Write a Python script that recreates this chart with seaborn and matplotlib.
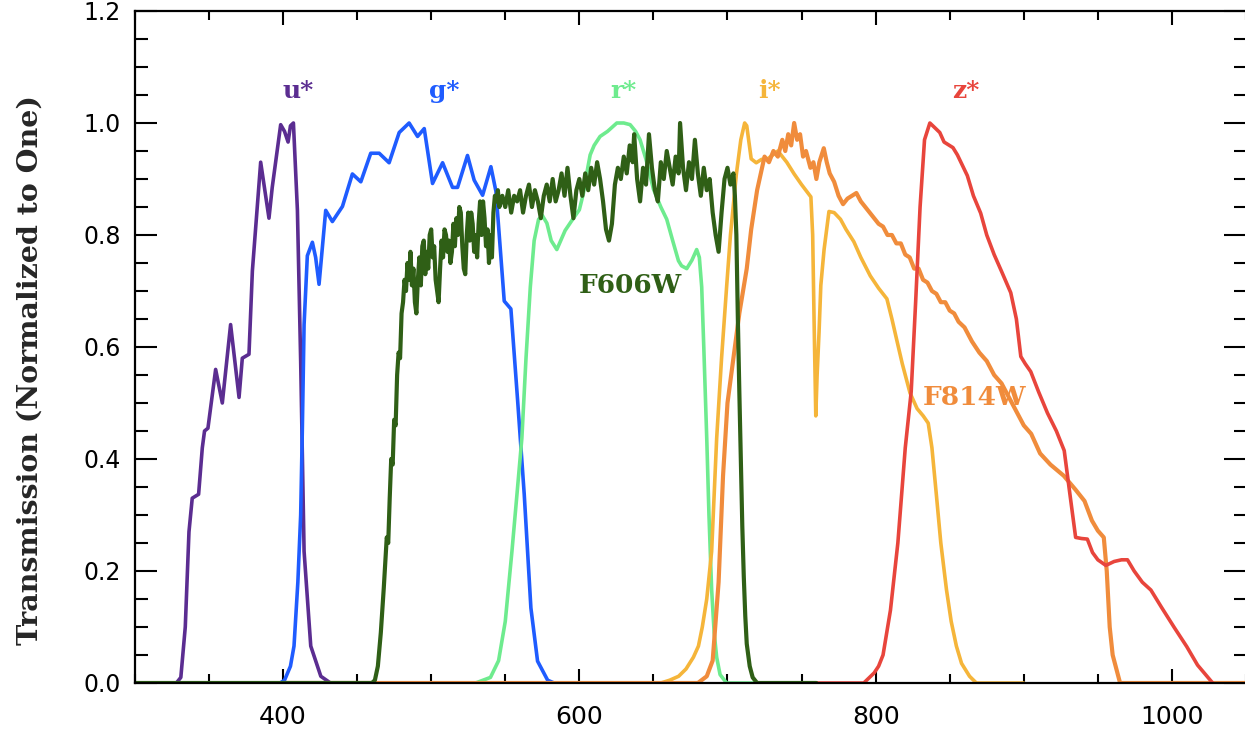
import numpy as np
import pandas as pd
import matplotlib
matplotlib.use("Agg")
import matplotlib.pyplot as plt
import seaborn as sns
from matplotlib.ticker import MultipleLocator

# ---------------- data ----------------
u_wl = [300, 328, 331, 334, 336.5, 338.7, 343, 345.5, 347, 349.3, 354.5, 359, 364.6, 370.3,
        372.5, 377, 379.3, 384.9, 390.5, 392.7, 398.4, 401, 403.4, 405, 407, 409.7, 411.9,
        414.2, 418.7, 425.5, 432, 500]
u_tr = [0, 0, 0.01, 0.10, 0.27, 0.33, 0.337, 0.42, 0.45, 0.455, 0.56, 0.50, 0.64, 0.51,
        0.58, 0.587, 0.736, 0.93, 0.83, 0.885, 0.997, 0.985, 0.966, 0.995, 1.0, 0.844, 0.574,
        0.235, 0.066, 0.012, 0.0, 0]

g_wl = [350, 398, 401, 405, 407.4, 410, 411.9, 413, 414.2, 416.4, 419.8, 422, 424.3, 428.8,
        433.3, 440.1, 446.8, 452.5, 459.2, 464.9, 471.6, 478.4, 485.1, 490.8, 495.3, 500.9,
        507.7, 514.4, 517.8, 524.5, 529, 534.7, 540.3, 543.7, 549.3, 553.8, 558.3, 562.8,
        567.3, 571.8, 578.6, 583, 600]
g_tr = [0, 0, 0.005, 0.03, 0.066, 0.18, 0.30, 0.45, 0.64, 0.763, 0.787, 0.76, 0.712, 0.844,
        0.824, 0.851, 0.909, 0.895, 0.946, 0.946, 0.929, 0.983, 1.0, 0.976, 0.99, 0.892,
        0.929, 0.885, 0.885, 0.942, 0.898, 0.871, 0.922, 0.878, 0.682, 0.668, 0.506, 0.337,
        0.134, 0.039, 0.005, 0, 0]

r_wl = [500, 530, 540, 545.5, 550, 554.5, 558, 561.2, 564, 566.9, 569.5, 572.5, 575, 578.1,
        581, 584.8, 590.4, 596, 600, 602.8, 605, 607.3, 610, 614, 619, 625.3, 630, 634.3,
        638, 641, 645, 650, 655, 659, 663, 666.9, 669, 672.5, 676, 679.2, 681, 682.6, 684,
        686, 687.5, 689.3, 691, 692.7, 695, 699.4, 760]
r_tr = [0, 0, 0.01, 0.04, 0.11, 0.235, 0.34, 0.437, 0.58, 0.707, 0.79, 0.828, 0.835, 0.821,
        0.79, 0.774, 0.808, 0.83, 0.845, 0.875, 0.91, 0.943, 0.96, 0.976, 0.985, 1.0, 1.0,
        0.997, 0.985, 0.97, 0.935, 0.882, 0.85, 0.828, 0.79, 0.754, 0.745, 0.74, 0.755,
        0.774, 0.76, 0.707, 0.6, 0.437, 0.3, 0.167, 0.09, 0.046, 0.015, 0, 0]

i_wl = [600, 655, 661, 667, 672, 677, 680.4, 683, 686, 689.3, 692.7, 696, 699.4, 702, 706,
        709, 711.6, 713, 716, 719.4, 723, 727.2, 734, 740, 745, 750, 756.3, 757.5, 758.5,
        759.6, 760.5, 761.8, 763, 765.2, 768.5, 772, 776.3, 780, 785.3, 790, 796.4, 802,
        807.6, 811, 814.3, 818, 823.2, 828, 832.1, 835.5, 838, 841, 844, 847.8, 851, 854.5,
        858, 863.4, 868, 900]
i_tr = [0, 0, 0.005, 0.012, 0.025, 0.046, 0.066, 0.10, 0.15, 0.235, 0.437, 0.58, 0.707, 0.8,
        0.909, 0.97, 1.0, 0.995, 0.936, 0.929, 0.935, 0.936, 0.95, 0.93, 0.909, 0.89, 0.868,
        0.8, 0.64, 0.477, 0.55, 0.626, 0.71, 0.774, 0.842, 0.84, 0.828, 0.81, 0.788, 0.76,
        0.727, 0.705, 0.686, 0.65, 0.612, 0.57, 0.518, 0.49, 0.477, 0.464, 0.42, 0.336, 0.25,
        0.167, 0.11, 0.066, 0.035, 0.012, 0, 0]

z_wl = [750, 792, 799, 802, 805, 810, 815, 820, 824, 827, 830, 833, 836.6, 839.4, 843.3,
        846.2, 852.2, 855.2, 861.9, 866, 870.9, 875, 880, 885, 891.2, 895, 898, 901, 904.7,
        910, 916, 922, 927.3, 931, 935, 939, 942.9, 946.4, 950, 955.4, 961, 966, 970, 974.5,
        980, 985.8, 993, 1001.6, 1010, 1017.3, 1027.5]
z_tr = [0, 0, 0.018, 0.03, 0.05, 0.13, 0.25, 0.42, 0.52, 0.68, 0.85, 0.97, 1.0, 0.993, 0.983,
        0.966, 0.956, 0.943, 0.906, 0.87, 0.839, 0.80, 0.765, 0.735, 0.697, 0.65, 0.583, 0.57,
        0.556, 0.52, 0.482, 0.45, 0.415, 0.34, 0.26, 0.258, 0.257, 0.233, 0.22, 0.21, 0.217,
        0.22, 0.22, 0.2, 0.18, 0.166, 0.135, 0.099, 0.065, 0.032, 0]

f606_wl = [300, 460, 462, 464, 466, 468, 470, 471, 472, 473, 474, 475, 476, 477, 478, 479, 480,
           481, 482, 483, 484, 485, 486, 487, 488, 489, 490, 491, 492, 493, 494, 495, 496, 497,
           498, 499, 500, 501, 502, 503, 504, 505, 506, 507, 508, 509, 510, 511, 512, 513, 514,
           515, 516, 517, 518, 519, 520, 521, 522, 523, 524, 525, 526, 527, 528, 529, 530, 531,
           532, 533, 534, 535, 536, 537, 538, 539, 540, 541, 542, 543, 544, 545, 546, 548, 550,
           552, 554, 556, 558, 560, 562, 564, 566, 568, 570, 572, 574, 576, 578, 580, 582, 584,
           586, 588, 590, 592, 594, 596, 598, 600, 602, 604, 606, 608, 610, 612, 614, 616, 618,
           620, 622, 624, 626, 628, 630, 632, 634, 636, 637, 639, 641, 643, 645, 647, 649, 651,
           653, 655, 657, 659, 661, 663, 665, 667, 668, 670, 672, 674, 676, 678, 680, 682, 684,
           686, 688, 690, 692, 694, 696, 698, 700, 702, 704, 705, 706, 707, 708, 709, 710, 711,
           712, 713, 715, 717, 720, 760]
f606_tr = [0, 0, 0.005, 0.03, 0.09, 0.17, 0.26, 0.25, 0.33, 0.40, 0.39, 0.47, 0.46, 0.55, 0.59,
           0.58, 0.66, 0.68, 0.72, 0.70, 0.75, 0.72, 0.77, 0.71, 0.74, 0.68, 0.66, 0.72, 0.76,
           0.71, 0.78, 0.79, 0.73, 0.77, 0.74, 0.80, 0.81, 0.76, 0.78, 0.72, 0.70, 0.68, 0.74,
           0.79, 0.76, 0.81, 0.80, 0.77, 0.79, 0.75, 0.77, 0.82, 0.78, 0.83, 0.80, 0.85, 0.84,
           0.78, 0.74, 0.73, 0.80, 0.84, 0.79, 0.84, 0.82, 0.77, 0.80, 0.76, 0.82, 0.86, 0.80,
           0.86, 0.83, 0.78, 0.81, 0.75, 0.80, 0.76, 0.84, 0.87, 0.86, 0.88, 0.85, 0.87, 0.85,
           0.88, 0.84, 0.87, 0.86, 0.88, 0.84, 0.87, 0.89, 0.85, 0.88, 0.86, 0.83, 0.87, 0.89,
           0.86, 0.90, 0.86, 0.88, 0.91, 0.87, 0.92, 0.87, 0.83, 0.88, 0.90, 0.87, 0.91, 0.88,
           0.92, 0.89, 0.93, 0.90, 0.86, 0.81, 0.79, 0.82, 0.89, 0.92, 0.90, 0.94, 0.91, 0.96,
           0.93, 0.98, 0.90, 0.86, 0.92, 0.89, 0.98, 0.92, 0.88, 0.86, 0.93, 0.90, 0.95, 0.92,
           0.89, 0.94, 0.91, 1.00, 0.92, 0.88, 0.93, 0.90, 0.97, 0.91, 0.87, 0.92, 0.88, 0.90,
           0.84, 0.80, 0.77, 0.84, 0.90, 0.92, 0.89, 0.91, 0.87, 0.80, 0.65, 0.52, 0.40, 0.28,
           0.19, 0.12, 0.07, 0.03, 0.01, 0.0, 0]

f814_wl = [400, 680, 686, 690, 694, 697, 700, 704, 708, 713, 716, 720, 725, 728, 731, 734, 737,
           739, 741, 743, 745, 747, 749, 751, 753, 756, 758, 760, 762, 765, 767, 769, 772, 775,
           778, 781, 784, 787, 790, 793, 796, 799, 802, 805, 808, 811, 814, 817, 820, 823, 826,
           829, 832, 835, 838, 841, 844, 847, 850, 853, 856, 860, 865, 870, 875, 880, 885, 890,
           895, 900, 905, 911, 918, 927, 935, 941, 946, 950, 954, 956, 958, 960, 962, 965, 1050]
f814_tr = [0, 0, 0.012, 0.04, 0.18, 0.37, 0.50, 0.58, 0.66, 0.74, 0.81, 0.88, 0.94, 0.93, 0.95,
           0.94, 0.97, 0.95, 0.98, 0.96, 1.0, 0.97, 0.98, 0.94, 0.95, 0.92, 0.93, 0.90, 0.93,
           0.955, 0.93, 0.91, 0.895, 0.87, 0.855, 0.865, 0.87, 0.875, 0.86, 0.85, 0.84, 0.83,
           0.82, 0.815, 0.80, 0.80, 0.785, 0.785, 0.765, 0.76, 0.74, 0.74, 0.72, 0.715, 0.70,
           0.695, 0.68, 0.68, 0.665, 0.66, 0.645, 0.635, 0.61, 0.59, 0.575, 0.55, 0.535, 0.51,
           0.485, 0.46, 0.445, 0.41, 0.39, 0.37, 0.345, 0.325, 0.29, 0.272, 0.26, 0.2, 0.1,
           0.05, 0.03, 0.0, 0]

filter_labels = ["u*", "g*", "r*", "i*", "z*"]
label_x = [410, 509, 630, 728, 861]
hst_labels = ["F606W", "F814W"]
hst_label_xy = [(634.5, 0.696), (867, 0.496)]

x_ticks = [400, 600, 800, 1000]
y_ticks = [0.0, 0.2, 0.4, 0.6, 0.8, 1.0, 1.2]

# ---------------- style ----------------
sns.set_style("ticks")
plt.rcParams["font.family"] = ["DejaVu Sans"]

colors = {
    "u*": "#5b2d91",
    "g*": "#1f5cff",
    "r*": "#6eeb8e",
    "i*": "#f5b53a",
    "z*": "#e8453c",
    "F606W": "#2f5f16",
    "F814W": "#f08c3c",
}

W, H = 1245, 739
fig = plt.figure(figsize=(W / 100, H / 100), dpi=100)
ax = fig.add_axes([134.9 / W, 56 / H, (1246 - 134.9) / W, 672 / H])

series = [
    ("u*", u_wl, u_tr, 2.6),
    ("g*", g_wl, g_tr, 2.6),
    ("r*", r_wl, r_tr, 2.6),
    ("i*", i_wl, i_tr, 2.6),
    ("F814W", f814_wl, f814_tr, 3.0),
    ("z*", z_wl, z_tr, 2.6),
    ("F606W", f606_wl, f606_tr, 3.0),
]
for name, wl, tr, lw in series:
    df = pd.DataFrame({"wavelength": wl, "transmission": tr})
    sns.lineplot(data=df, x="wavelength", y="transmission", ax=ax, color=colors[name],
                 lw=lw, estimator=None, sort=False, legend=False,
                 solid_joinstyle="round", solid_capstyle="round")

serif = "DejaVu Serif"
for lab, lx in zip(filter_labels, label_x):
    ax.text(lx, 1.045, lab, color=colors[lab], ha="center", va="baseline",
            fontsize=18, fontweight="bold", family=serif)
for lab, (lx, ly) in zip(hst_labels, hst_label_xy):
    ax.text(lx, ly, lab, color=colors[lab], ha="center", va="baseline",
            fontsize=19, fontweight="bold", family=serif)

ax.set_xlim(300, 1050)
ax.set_ylim(0, 1.2)
ax.set_xticks(x_ticks)
ax.set_yticks(y_ticks)
ax.set_yticklabels([f"{v:.1f}" for v in y_ticks])
ax.xaxis.set_minor_locator(MultipleLocator(50))
ax.yaxis.set_minor_locator(MultipleLocator(0.05))

ax.tick_params(axis="both", which="both", direction="in", top=True, right=True,
               width=1.5, colors="black")
ax.tick_params(axis="x", which="major", length=10, pad=16, labelsize=18)
ax.tick_params(axis="x", which="minor", length=6.5)
ax.tick_params(axis="y", which="major", length=16, pad=10, labelsize=17)
ax.tick_params(axis="y", which="minor", length=9)
for s in ax.spines.values():
    s.set_linewidth(1.6)
    s.set_color("black")

ax.set_xlabel("")
ax.set_ylabel("Transmission (Normalized to One)", fontsize=20.5, fontweight="bold",
              family=serif, va="center")
ax.yaxis.set_label_coords((30 - 134.9) / 1111, 0.466)

fig.savefig("out.png", dpi=100)
